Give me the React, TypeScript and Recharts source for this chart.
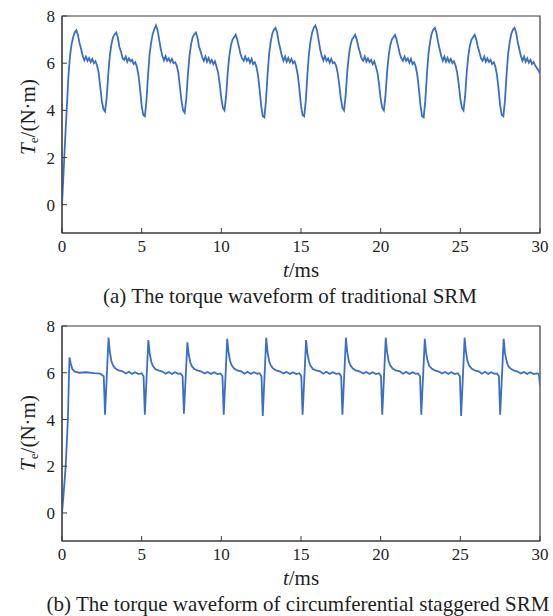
import React from 'react';
import { LineChart, Line, XAxis, YAxis, ReferenceArea } from 'recharts';

// x axis / y axis ticks shared by both panels
const xTicks = [0, 5, 10, 15, 20, 25, 30];
const yTicks = [0, 2, 4, 6, 8];
const yDomain: [number, number] = [-1.2, 8];

// (a) traditional SRM: torque sampled every 0.1 ms from 0 to 30 ms
const STEP_A = 0.1;
const startupA = [0, 1.4, 2.8, 4.1, 5.4, 6.3, 6.8, 7.1, 7.3];
// one row per 2.5 ms period, each row starts at a torque peak (0.9, 3.4, 5.9 ... 25.9 ms)
const cyclesA = [
  [7.4, 7.2, 6.85, 6.6, 6.3, 6.12, 6.28, 6.1, 6.22, 6.05, 6.18, 6.0, 6.08, 5.9, 5.6, 5.0, 4.4, 4.05, 3.95, 4.5, 5.5, 6.3, 6.8, 7.1, 7.22],
  [7.3, 7.1, 6.7, 6.5, 6.22, 6.14, 6.28, 6.06, 6.2, 6.08, 6.14, 5.96, 6.04, 5.85, 5.5, 4.9, 4.2, 3.8, 3.75, 4.4, 5.5, 6.4, 6.9, 7.25, 7.45],
  [7.6, 7.4, 7.0, 6.6, 6.3, 6.12, 6.3, 6.1, 6.2, 6.05, 6.18, 6.0, 6.04, 5.9, 5.6, 5.0, 4.4, 4.0, 3.9, 4.5, 5.5, 6.3, 6.8, 7.1, 7.22],
  [7.3, 7.1, 6.7, 6.5, 6.25, 6.1, 6.28, 6.06, 6.22, 6.02, 6.14, 5.96, 6.08, 5.85, 5.6, 5.1, 4.5, 4.1, 4.0, 4.6, 5.6, 6.3, 6.75, 7.0, 7.1],
  [7.2, 7.0, 6.7, 6.4, 6.2, 6.1, 6.28, 6.1, 6.2, 6.02, 6.18, 5.96, 6.04, 5.85, 5.5, 4.9, 4.2, 3.75, 3.7, 4.4, 5.5, 6.4, 6.9, 7.25, 7.42],
  [7.5, 7.3, 6.9, 6.6, 6.3, 6.1, 6.28, 6.06, 6.22, 6.05, 6.18, 6.0, 6.08, 5.85, 5.5, 4.9, 4.2, 3.8, 3.75, 4.4, 5.5, 6.4, 6.95, 7.3, 7.5],
  [7.6, 7.4, 7.0, 6.6, 6.3, 6.12, 6.3, 6.1, 6.2, 6.02, 6.18, 6.0, 6.04, 5.9, 5.6, 5.1, 4.5, 4.1, 4.0, 4.6, 5.6, 6.3, 6.75, 7.0, 7.1],
  [7.2, 7.0, 6.7, 6.45, 6.2, 6.1, 6.28, 6.06, 6.2, 6.05, 6.14, 5.96, 6.08, 5.85, 5.6, 5.1, 4.5, 4.1, 4.0, 4.6, 5.6, 6.3, 6.75, 7.0, 7.1],
  [7.2, 7.0, 6.7, 6.4, 6.2, 6.1, 6.28, 6.1, 6.2, 6.02, 6.18, 5.96, 6.04, 5.85, 5.5, 4.9, 4.2, 3.75, 3.7, 4.4, 5.5, 6.4, 6.9, 7.25, 7.42],
  [7.5, 7.3, 6.9, 6.6, 6.3, 6.1, 6.28, 6.06, 6.22, 6.05, 6.18, 6.0, 6.08, 5.9, 5.6, 5.1, 4.5, 4.1, 4.0, 4.6, 5.6, 6.3, 6.75, 7.0, 7.1],
  [7.2, 7.0, 6.7, 6.45, 6.2, 6.1, 6.28, 6.06, 6.2, 6.05, 6.14, 5.96, 6.04, 5.85, 5.5, 4.9, 4.2, 3.8, 3.75, 4.4, 5.5, 6.4, 6.9, 7.25, 7.42],
];
const tailA = [7.5, 7.3, 6.9, 6.6, 6.3, 6.1, 6.28, 6.06, 6.2, 6.02, 6.14, 5.96, 6.04, 5.9, 5.8, 5.7, 5.55];

// (b) circumferential staggered SRM: [time ms] and [torque] rows, one row per period
const timeB = [
  [0, 0.1, 0.23, 0.37, 0.42, 0.47, 0.55, 0.65, 0.8, 1.1, 1.5, 2.0, 2.4, 2.62],
  [2.7, 2.92, 3.0, 3.1, 3.2, 3.35, 3.55, 3.8, 4.0, 4.2, 4.4, 4.6, 4.8, 5.0, 5.12],
  [5.2, 5.42, 5.5, 5.6, 5.7, 5.85, 6.05, 6.3, 6.5, 6.7, 6.9, 7.1, 7.3, 7.45, 7.57],
  [7.65, 7.87, 7.95, 8.05, 8.15, 8.3, 8.5, 8.75, 8.95, 9.15, 9.35, 9.55, 9.75, 9.95, 10.07],
  [10.15, 10.37, 10.45, 10.55, 10.65, 10.8, 11.0, 11.25, 11.45, 11.65, 11.85, 12.05, 12.25, 12.4, 12.52],
  [12.6, 12.82, 12.9, 13.0, 13.1, 13.25, 13.45, 13.7, 13.9, 14.1, 14.3, 14.5, 14.7, 14.9, 15.02],
  [15.1, 15.32, 15.4, 15.5, 15.6, 15.75, 15.95, 16.2, 16.4, 16.6, 16.8, 17.0, 17.2, 17.4, 17.52],
  [17.6, 17.82, 17.9, 18.0, 18.1, 18.25, 18.45, 18.7, 18.9, 19.1, 19.3, 19.5, 19.7, 19.9, 20.02],
  [20.1, 20.32, 20.4, 20.5, 20.6, 20.75, 20.95, 21.2, 21.4, 21.6, 21.8, 22.0, 22.2, 22.35, 22.47],
  [22.55, 22.77, 22.85, 22.95, 23.05, 23.2, 23.4, 23.65, 23.85, 24.05, 24.25, 24.45, 24.65, 24.85, 24.97],
  [25.05, 25.27, 25.35, 25.45, 25.55, 25.7, 25.9, 26.15, 26.35, 26.55, 26.75, 26.95, 27.15, 27.3, 27.42],
  [27.5, 27.72, 27.8, 27.9, 28.0, 28.15, 28.35, 28.6, 28.8, 29.0, 29.2, 29.4, 29.6, 29.8, 29.93, 30.0],
];
const torqueB = [
  [0, 0.8, 2.0, 4.0, 5.4, 6.65, 6.4, 6.15, 6.05, 6.0, 6.02, 5.98, 5.96, 5.85],
  [4.2, 7.5, 6.9, 6.5, 6.32, 6.18, 6.1, 6.06, 5.97, 6.04, 5.95, 6.02, 5.94, 5.98, 5.85],
  [4.2, 7.4, 6.85, 6.48, 6.3, 6.16, 6.1, 6.05, 5.96, 6.03, 5.95, 6.02, 5.95, 5.97, 5.85],
  [4.25, 7.3, 6.8, 6.45, 6.28, 6.16, 6.1, 6.05, 5.97, 6.03, 5.95, 6.02, 5.94, 5.97, 5.85],
  [4.2, 7.45, 6.9, 6.5, 6.32, 6.18, 6.1, 6.06, 5.96, 6.04, 5.95, 6.02, 5.95, 5.98, 5.85],
  [4.15, 7.5, 6.9, 6.5, 6.32, 6.18, 6.1, 6.05, 5.97, 6.03, 5.95, 6.02, 5.94, 5.98, 5.85],
  [4.2, 7.4, 6.85, 6.48, 6.3, 6.16, 6.1, 6.06, 5.96, 6.04, 5.95, 6.02, 5.95, 5.97, 5.85],
  [4.2, 7.5, 6.9, 6.5, 6.32, 6.18, 6.1, 6.05, 5.97, 6.03, 5.95, 6.02, 5.94, 5.98, 5.85],
  [4.2, 7.5, 6.9, 6.5, 6.32, 6.18, 6.1, 6.06, 5.96, 6.04, 5.95, 6.02, 5.95, 5.97, 5.85],
  [4.2, 7.45, 6.85, 6.5, 6.3, 6.18, 6.1, 6.05, 5.97, 6.03, 5.95, 6.02, 5.94, 5.98, 5.85],
  [4.15, 7.5, 6.9, 6.5, 6.32, 6.18, 6.1, 6.06, 5.96, 6.04, 5.95, 6.02, 5.95, 5.97, 5.85],
  [4.2, 7.45, 6.85, 6.5, 6.3, 6.18, 6.1, 6.05, 5.97, 6.03, 5.95, 6.02, 5.94, 5.97, 5.95, 5.45],
];

const dataA = [...startupA, ...cyclesA.flat(), ...tailA].map((te, i) => ({
  t: Math.round(i * STEP_A * 10) / 10,
  te,
}));
const flatTimeB = timeB.flat();
const dataB = torqueB.flat().map((te, i) => ({ t: flatTimeB[i], te }));

const FONT = '"Liberation Serif", "Times New Roman", serif';
const LINE = '#3a6fc4';
const FRAME = '#3a3a3a';
const TEXT = '#1e1e1e';

const xLabel = (caption: string, captionX: number) => (props: any) => {
  const vb = props.viewBox;
  const cx = vb.x + vb.width / 2;
  return (
    <g fontFamily={FONT} fill={TEXT}>
      <text x={cx} y={vb.y + 44} textAnchor="middle" fontSize={21}>
        <tspan fontStyle="italic">t</tspan>/ms
      </text>
      <text x={captionX} y={vb.y + 70} textAnchor="middle" fontSize={21}>
        {caption}
      </text>
    </g>
  );
};

const yLabel = (centerY: number) => (props: any) => {
  const cx = 28;
  const cy = centerY;
  return (
    <text
      x={cx}
      y={cy}
      transform={`rotate(-90, ${cx}, ${cy})`}
      textAnchor="middle"
      dominantBaseline="central"
      fontFamily={FONT}
      fontSize={21}
      fill={TEXT}
    >
      <tspan fontStyle="italic">T</tspan>
      <tspan fontSize={13} dy={5}>e</tspan>
      <tspan dy={-5}>/(N·m)</tspan>
    </text>
  );
};

type PanelProps = {
  data: { t: number; te: number }[];
  top: number;
  height: number;
  axisHeight: number;
  caption: string;
  captionX: number;
  labelY: number;
};

const Panel = ({ data, top, height, axisHeight, caption, captionX, labelY }: PanelProps) => (
  <div style={{ position: 'absolute', left: 0, top }}>
    <LineChart width={553} height={height} data={data} margin={{ top: 16, right: 13, left: 0, bottom: 0 }}>
      <XAxis
        dataKey="t"
        type="number"
        domain={[0, 30]}
        ticks={xTicks}
        allowDataOverflow
        height={axisHeight}
        stroke={FRAME}
        tickSize={-5}
        tickMargin={12}
        tick={{ fill: TEXT, fontSize: 17, fontFamily: FONT }}
        label={{ content: xLabel(caption, captionX) }}
      />
      <YAxis
        type="number"
        domain={yDomain}
        ticks={yTicks}
        allowDataOverflow
        width={62}
        stroke={FRAME}
        tickSize={-5}
        tickMargin={12}
        tick={{ fill: TEXT, fontSize: 17, fontFamily: FONT }}
        label={{ content: yLabel(labelY) }}
      />
      <ReferenceArea x1={0} x2={30} y1={yDomain[0]} y2={yDomain[1]} fill="none" stroke={FRAME} strokeWidth={1.2} />
      <Line type="linear" dataKey="te" stroke={LINE} strokeWidth={1.8} dot={false} isAnimationActive={false} />
    </LineChart>
  </div>
);

export default function App() {
  return (
    <div style={{ position: 'absolute', left: 0, top: 0, width: 553, height: 616, background: '#fff' }}>
      <Panel
        data={dataA}
        top={0}
        height={310}
        axisHeight={77}
        caption="(a) The torque waveform of traditional SRM"
        captionX={290}
        labelY={117}
      />
      <Panel
        data={dataB}
        top={310}
        height={306}
        axisHeight={75}
        caption="(b) The torque waveform of circumferential staggered SRM"
        captionX={298}
        labelY={123}
      />
    </div>
  );
}
